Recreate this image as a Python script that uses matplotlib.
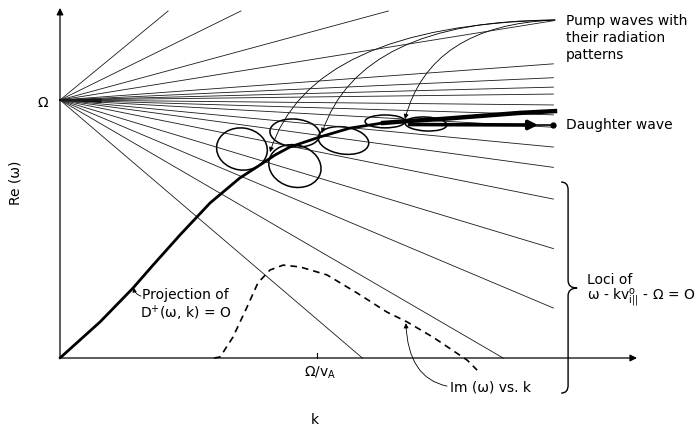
import numpy as np
import matplotlib.pyplot as plt
from matplotlib.patches import Ellipse, FancyArrowPatch, PathPatch
from matplotlib.path import Path

plt.rcParams['font.family'] = 'DejaVu Sans'

# k in units of Omega/v_A, omega in units of Omega
k_max = 1.92
w_top = 1.345

# loci  omega - k v_par - Omega = 0
v_par = [0.82, 0.49, 0.27, 0.16, 0.073, 0.045, 0.026, 0.012, -0.01, -0.03,
         -0.055, -0.095, -0.136, -0.20, -0.30, -0.42, -0.58, -0.85]

# projection of D+(omega, k) = 0
proj_k = [0, 0.156, 0.284, 0.362, 0.467, 0.584, 0.700, 0.778, 0.837, 0.895,
          1.012, 1.128, 1.257, 1.362, 1.479, 1.634, 1.790, 1.926]
proj_w = [0, 0.140, 0.271, 0.360, 0.477, 0.601, 0.698, 0.748, 0.787, 0.818,
          0.857, 0.891, 0.911, 0.919, 0.926, 0.938, 0.950, 0.957]

# Im(omega) vs k
im_k = [0.60, 0.623, 0.673, 0.728, 0.770, 0.817, 0.868, 0.934, 1.039, 1.156,
        1.272, 1.350, 1.451, 1.584, 1.623]
im_w = [0.0, 0.004, 0.081, 0.198, 0.291, 0.341, 0.360, 0.353, 0.322, 0.252,
        0.178, 0.140, 0.081, -0.008, -0.047]

# radiation patterns of the pump waves
ell_k = [0.708, 0.914, 0.914, 1.103, 1.265, 1.424]
ell_w = [0.810, 0.872, 0.744, 0.843, 0.917, 0.907]
ell_dk = [0.198, 0.195, 0.206, 0.198, 0.156, 0.163]
ell_dw = [0.163, 0.108, 0.163, 0.105, 0.050, 0.054]
ell_ang = [-8, -5, -15, -8, 0, -3]

# pump wave arrows
pump_src = (1.926, 1.310)
pump_tip_k = [0.817, 1.019, 1.342]
pump_tip_w = [0.798, 0.872, 0.926]
pump_ctl_k = [0.973, 1.167, 1.440]
pump_ctl_w = [1.291, 1.310, 1.291]

fig = plt.figure(figsize=(6.98, 4.28), dpi=100)
ax = fig.add_axes([0, 0, 1, 1])
ax.set_xlim(-60 / 257, 638 / 257)
ax.set_ylim(-70 / 258, 358 / 258)
ax.axis('off')

# axes with arrows
arr = dict(arrowstyle='-|>', lw=0.9, color='k', mutation_scale=10,
           shrinkA=0, shrinkB=0)
ax.annotate('', xy=(0, 1.357), xytext=(0, 0), arrowprops=arr)
ax.annotate('', xy=(2.245, 0), xytext=(0, 0), arrowprops=arr)
ax.plot([1, 1], [0, 0.02], color='k', lw=0.8)

# fan of loci through (0, Omega)
for v in v_par:
    if v > 0:
        k_end = min(k_max, (w_top - 1) / v)
    else:
        k_end = min(k_max, -1 / v)
    ax.plot([0, k_end], [1, 1 + v * k_end], color='#1a1a1a', lw=0.6)
kc = np.array([0, 0.16])
ax.fill_between(kc, 1 + 0.05 * kc, 1 - 0.06 * kc, color='k', lw=0)

# D+ projection, heavier towards large k
ax.plot(proj_k, proj_w, color='k', lw=2.0, solid_capstyle='round')
ax.plot(proj_k[12:], proj_w[12:], color='k', lw=3.2)

# daughter wave
ax.annotate('', xy=(1.86, 0.903), xytext=(1.36, 0.905),
            arrowprops=dict(arrowstyle='-|>', lw=2.6, color='k',
                            mutation_scale=13, shrinkA=0, shrinkB=0))
ax.plot([1.80, 1.92], [0.903, 0.903], color='k', lw=1.2)
ax.plot(1.92, 0.903, 'o', color='k', ms=3.5)

# radiation pattern ellipses
for i in range(len(ell_k)):
    ax.add_patch(Ellipse((ell_k[i], ell_w[i]), ell_dk[i], ell_dw[i],
                         angle=ell_ang[i], fill=False, ec='k', lw=1.1))

# curved arrows from the pump label
for i in range(len(pump_tip_k)):
    p = Path([pump_src, (pump_ctl_k[i], pump_ctl_w[i]),
              (pump_tip_k[i], pump_tip_w[i])],
             [Path.MOVETO, Path.CURVE3, Path.CURVE3])
    ax.add_patch(FancyArrowPatch(path=p, arrowstyle='-|>', mutation_scale=7,
                                 lw=0.6, color='k'))

# Im(omega) curve
ax.plot(im_k, im_w, color='k', lw=1.2, ls=(0, (4, 3)))
p = Path([(1.506, -0.109), (1.354, -0.078), (1.346, 0.135)],
         [Path.MOVETO, Path.CURVE3, Path.CURVE3])
ax.add_patch(FancyArrowPatch(path=p, arrowstyle='-|>', mutation_scale=7,
                             lw=0.6, color='k'))

# brace for the loci
bx, btop, bbot, bmid, btip, bh, bc = 1.977, 0.682, -0.136, 0.271, 2.012, 0.027, 0.03
brace = Path([(bx - bh, btop), (bx, btop), (bx, btop - bc),
              (bx, bmid + bc), (bx, bmid), (btip, bmid),
              (btip, bmid), (bx, bmid), (bx, bmid - bc),
              (bx, bbot + bc), (bx, bbot), (bx - bh, bbot)],
             [Path.MOVETO, Path.CURVE3, Path.CURVE3,
              Path.LINETO, Path.CURVE3, Path.CURVE3,
              Path.MOVETO, Path.CURVE3, Path.CURVE3,
              Path.LINETO, Path.CURVE3, Path.CURVE3])
ax.add_patch(PathPatch(brace, fill=False, ec='k', lw=1.0))

fs = 10
ax.text(-0.066, 0.988, 'Ω', fontsize=fs, ha='center', va='center')
ax.text(-0.175, 0.68, 'Re (ω)', fontsize=fs, ha='center', va='center',
        rotation=90)
ax.text(1.012, -0.058, 'Ω/v$_{\\mathrm{A}}$', fontsize=fs, ha='center',
        va='center')
ax.text(0.992, -0.240, 'k', fontsize=fs, ha='center', va='center')
ax.text(1.969, 1.24, 'Pump waves with\ntheir radiation\npatterns',
        fontsize=fs, ha='left', va='center', linespacing=1.3)
ax.text(1.969, 0.903, 'Daughter wave', fontsize=fs, ha='left', va='center')
ax.text(2.05, 0.302, 'Loci of', fontsize=fs, ha='left', va='center')
ax.text(2.05, 0.233, 'ω - kv$^{\\mathrm{o}}_{\\mathrm{i||}}$ - Ω = O',
        fontsize=fs, ha='left', va='center')
ax.text(1.518, -0.116, 'Im (ω) vs. k', fontsize=fs, ha='left', va='center')
ax.text(0.319, 0.244, 'Projection of', fontsize=fs, ha='left', va='center')
ax.text(0.311, 0.174, 'D$^{+}$(ω, k) = O', fontsize=fs, ha='left',
        va='center')
ax.annotate('', xy=(0.287, 0.272), xytext=(0.315, 0.240),
            arrowprops=dict(arrowstyle='-|>', lw=0.6, color='k',
                            mutation_scale=6, shrinkA=0, shrinkB=0,
                            connectionstyle='arc3,rad=-0.3'))

fig.savefig('out.png', dpi=100)
